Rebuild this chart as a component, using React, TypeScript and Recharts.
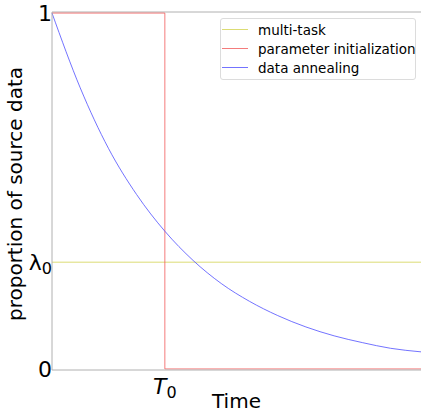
import { Line, LineChart, ReferenceLine, XAxis, YAxis } from "recharts";

const timeSteps = [0, 0.25, 0.5, 0.75, 1, 1.25, 1.5, 1.75, 2, 2.25, 2.5, 2.75, 3, 3.27];
const annealingValues = [1.0, 0.79, 0.62, 0.49, 0.387, 0.305, 0.24, 0.19, 0.15, 0.118, 0.093, 0.074, 0.058, 0.048];
const initTimes = [0, 1, 1, 3.27];
const initValues = [1, 1, 0, 0];
const multiTaskTimes = [0, 3.27];
const lambda0 = 0.3;
const T0 = 1;

const seriesNames = ["multi-task", "parameter initialization", "data annealing"];
const seriesColors = ["rgba(191,191,0,0.55)", "rgba(240,80,80,0.75)", "rgba(80,80,255,0.8)"];

const annealing = timeSteps.map((t, i) => ({ t, v: annealingValues[i] }));
const init = initTimes.map((t, i) => ({ t, v: initValues[i] }));
const multiTask = multiTaskTimes.map((t) => ({ t, v: lambda0 }));

const FONT = "DejaVu Sans, sans-serif";

function YTick({ x, y, payload }: any) {
  const v = payload.value;
  if (v === lambda0) {
    return (
      <text x={x + 8} y={y + 8} textAnchor="end" fontFamily={FONT} fontSize={22} fill="#000">
        λ<tspan fontSize={16} dy={4}>0</tspan>
      </text>
    );
  }
  return (
    <text x={x + 8} y={y + 8} textAnchor="end" fontFamily={FONT} fontSize={22} fill="#000">
      {v === 0 ? "0" : "1"}
    </text>
  );
}

function XTick({ x, y }: any) {
  return (
    <text x={x} y={y + 16} textAnchor="middle" fontFamily={FONT} fontSize={22} fill="#000">
      <tspan fontStyle="italic">T</tspan>
      <tspan fontSize={16} dy={4}>0</tspan>
    </text>
  );
}

function LegendBox() {
  return (
    <div
      style={{
        position: "absolute",
        top: 18,
        left: 220,
        width: 194,
        border: "1px solid #dcdcdc",
        borderRadius: 3,
        background: "#fff",
        padding: "1px 0 2px 0",
        fontFamily: FONT,
        fontSize: 13.5,
        color: "#000",
        whiteSpace: "nowrap",
      }}
    >
      {seriesNames.map((name, i) => (
        <div key={name} style={{ display: "flex", alignItems: "center", height: 19 }}>
          <div style={{ width: 26, height: 1, flex: "none", background: seriesColors[i], margin: "0 10px 0 1px" }} />
          <span>{name}</span>
        </div>
      ))}
    </div>
  );
}

export default function App() {
  return (
    <div style={{ position: "absolute", left: 0, top: 0, width: 421, height: 413, background: "#fff", overflow: "hidden" }}>
      <LineChart width={421} height={413} margin={{ top: 12, right: 0, bottom: 0, left: 0 }}>
        <XAxis
          dataKey="t"
          type="number"
          domain={[0, 3.27]}
          ticks={[T0]}
          tick={<XTick />}
          tickLine={false}
          axisLine={{ stroke: "#b0b0b0" }}
          height={43}
          allowDuplicatedCategory={false}
        />
        <YAxis
          type="number"
          domain={[-0.003, 1.003]}
          ticks={[0, lambda0, 1]}
          tick={<YTick />}
          tickLine={false}
          axisLine={{ stroke: "#b0b0b0" }}
          width={52}
          label={{
            value: "proportion of source data",
            angle: -90,
            position: "insideLeft",
            dx: 10,
            dy: 3,
            style: { fontFamily: FONT, fontSize: 20, fill: "#000", textAnchor: "middle" },
          }}
        />
        <ReferenceLine y={1.003} stroke="#b0b0b0" ifOverflow="visible" />
        <Line
          data={multiTask}
          dataKey="v"
          type="linear"
          stroke={seriesColors[0]}
          strokeWidth={1}
          dot={false}
          isAnimationActive={false}
          name={seriesNames[0]}
        />
        <Line
          data={init}
          dataKey="v"
          type="linear"
          stroke={seriesColors[1]}
          strokeWidth={1}
          dot={false}
          isAnimationActive={false}
          name={seriesNames[1]}
        />
        <Line
          data={annealing}
          dataKey="v"
          type="monotone"
          stroke={seriesColors[2]}
          strokeWidth={1}
          dot={false}
          isAnimationActive={false}
          name={seriesNames[2]}
        />
      </LineChart>
      <LegendBox />
      <div
        style={{
          position: "absolute",
          top: 391,
          left: 52,
          width: 369,
          height: 21,
          lineHeight: "21px",
          textAlign: "center",
          fontFamily: FONT,
          fontSize: 20,
          color: "#000",
        }}
      >
        Time
      </div>
    </div>
  );
}
